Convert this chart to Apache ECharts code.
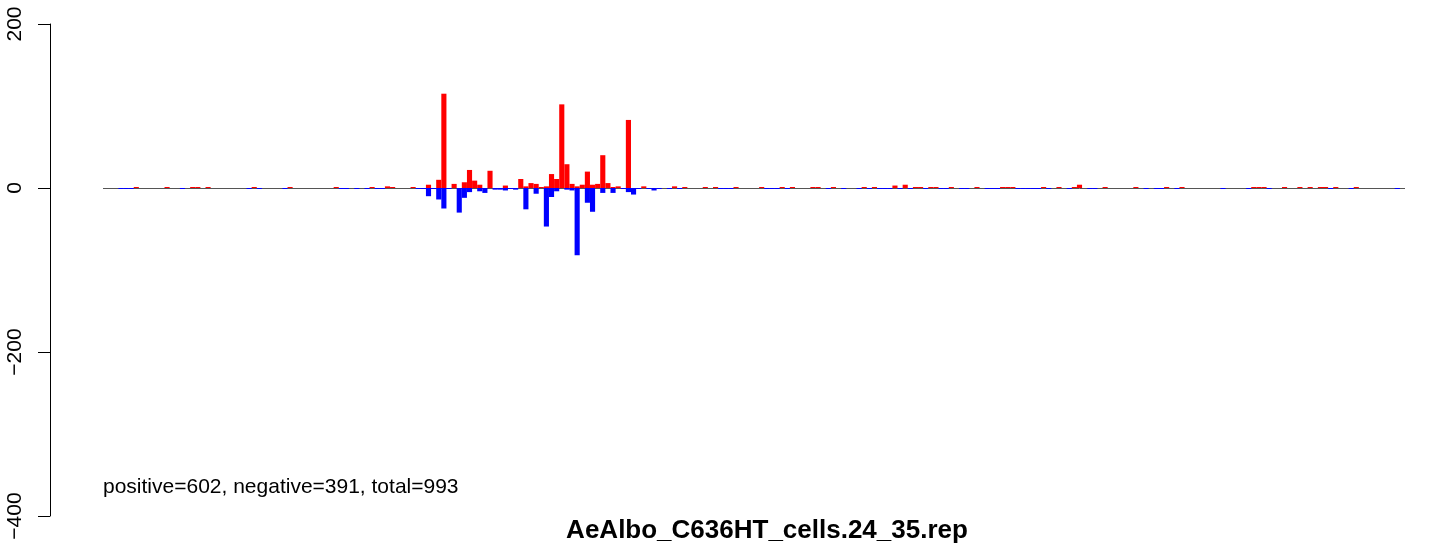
<!DOCTYPE html>
<html>
<head>
<meta charset="utf-8">
<script src="https://cdn.jsdelivr.net/npm/echarts@6/dist/echarts.min.js"></script>
<style>html,body{margin:0;padding:0;background:#fff}#c{width:1444px;height:544px}</style>
</head>
<body>
<div id="c"></div>
<script>
// 254 bins along the sequence
var binCount = 254;
var categories = [];
for (var i = 0; i < binCount; i++) categories.push(String(i + 1));

var positiveCounts = [
  0,0,0,0,0,0,1,0,0,0, 0,0,1,0,0,0,0,1,1,0,
  1,0,0,0,0,0,0,0,0,1, 0,0,0,0,0,0,1,0,0,0,
  0,0,0,0,0,1,0,0,0,0, 0,0,1,0,0,2,1,0,0,0,
  1,0,0,4,0,10,115,0,5,0, 7,22,9,4,0,21,0,0,3,0,
  0,11,2,6,5,1,2,17,11,102, 29,5,2,4,20,4,5,40,6,1,
  2,0,83,0,0,2,0,0,0,0, 0,2,0,1,0,0,0,1,0,1,
  0,0,0,1,0,0,0,0,1,0, 0,0,1,0,1,0,0,0,1,1,
  0,0,1,0,0,0,0,0,1,0, 1,0,0,0,3,0,4,0,1,1,
  0,1,1,0,0,1,0,0,0,0, 1,0,0,0,0,1,1,1,0,0,
  0,0,0,1,0,0,1,0,0,1, 4,0,0,0,0,1,0,0,0,0,
  0,1,0,0,0,0,0,1,0,0, 1,0,0,0,0,0,0,0,0,0,
  0,0,0,0,1,1,1,0,0,0, 1,0,0,1,0,1,0,1,1,0,
  1,0,0,0,1,0,0,0,0,0, 0,0,0,0
];

var negativeCounts = [
  0,0,0,-1,-1,-1,0,0,0,0, 0,0,0,0,0,-1,0,0,0,0,
  0,0,0,0,0,0,0,0,-1,0, -1,0,0,0,0,-1,0,0,0,0,
  0,0,0,0,0,0,-1,-1,0,-1, 0,-1,0,-1,-1,0,0,0,0,0,
  0,-1,-1,-10,-1,-14,-25,-1,0,-30, -12,-5,0,-4,-6,0,-2,-2,-3,-1,
  -2,0,-26,0,-7,0,-47,-11,-4,0, -2,-3,-82,0,-18,-29,0,-6,0,-6,
  0,-1,-5,-8,-1,0,-1,-3,-1,0, -1,0,-1,0,0,0,0,0,0,0,
  -1,-1,-1,0,0,0,0,0,0,-1, -1,-1,0,-1,0,0,0,0,0,0,
  0,-1,0,0,-1,0,0,-1,0,-1, 0,-1,-1,-1,0,-1,0,-1,0,0,
  -1,0,0,-1,-1,0,0,-1,-1,0, 0,0,-1,-1,-1,0,0,0,-1,-1,
  -1,-1,-1,0,-1,0,0,0,-1,0, 0,0,-1,-1,0,0,0,0,0,0,
  0,0,0,-1,0,-1,-1,0,0,-1, 0,0,0,0,0,0,0,0,-1,0,
  0,0,0,-1,0,0,0,-1,0,0, 0,0,0,0,0,0,0,0,0,-1,
  0,0,0,-1,0,0,0,0,0,0, 0,0,-1,0
];

var yTicks = [-400, -200, 0, 200];
var chartTitle = 'AeAlbo_C636HT_cells.24_35.rep';
var summaryText = 'positive=602, negative=391, total=993';

function blankZeros(arr) {
  return arr.map(function (v) { return v === 0 ? '-' : v; });
}

var FONT = '"Liberation Sans", Arial, Helvetica, sans-serif';
var chart = echarts.init(document.getElementById('c'), null, { renderer: 'canvas' });

chart.setOption({
  animation: false,
  backgroundColor: '#ffffff',
  grid: { left: 103, width: 1302, top: 24, height: 492, containLabel: false },
  xAxis: {
    type: 'category',
    data: categories,
    boundaryGap: true,
    show: false
  },
  yAxis: {
    type: 'value',
    min: yTicks[0],
    max: yTicks[yTicks.length - 1],
    interval: 200,
    offset: 53,
    splitLine: { show: false },
    axisLine: { show: true, lineStyle: { color: '#000', width: 1 } },
    axisTick: { show: true, length: 12, lineStyle: { color: '#000', width: 1 } },
    axisLabel: {
      rotate: 90,
      margin: 24,
      color: '#000',
      fontSize: 21,
      fontFamily: FONT,
      formatter: function (v) { return String(v).replace('-', '\u2212'); }
    }
  },
  series: [
    {
      name: 'baseline',
      type: 'bar',
      data: [],
      z: 1,
      markLine: {
        silent: true,
        symbol: 'none',
        z: 1,
        label: { show: false },
        lineStyle: { color: '#555', width: 1, type: 'solid' },
        data: [{ yAxis: 0 }]
      }
    },
    {
      name: 'positive',
      type: 'bar',
      data: blankZeros(positiveCounts),
      barWidth: '100%',
      barGap: '-100%',
      barCategoryGap: 0,
      barMinHeight: 1,
      itemStyle: { color: '#ff0000' },
      z: 10
    },
    {
      name: 'negative',
      type: 'bar',
      data: blankZeros(negativeCounts),
      barWidth: '100%',
      barGap: '-100%',
      barCategoryGap: 0,
      barMinHeight: 1,
      itemStyle: { color: '#0000ff' },
      z: 10
    }
  ],
  graphic: [
    {
      type: 'text',
      left: 103,
      top: 477,
      style: { text: summaryText, fontSize: 21, fontFamily: FONT, fill: '#000' }
    },
    {
      type: 'text',
      x: 767,
      y: 531,
      style: {
        text: chartTitle, fontSize: 26, fontWeight: 'bold', fontFamily: FONT, fill: '#000',
        textAlign: 'center', textVerticalAlign: 'middle'
      }
    }
  ]
});
</script>
</body>
</html>
